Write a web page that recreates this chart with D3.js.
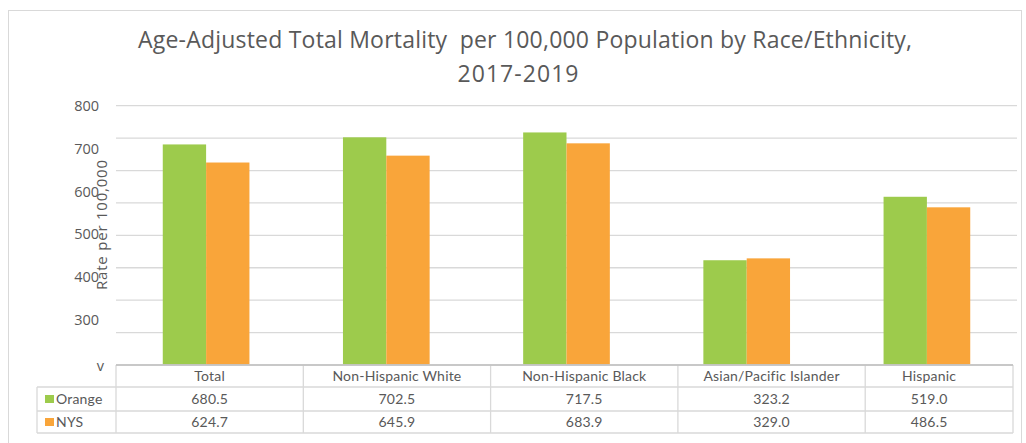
<!DOCTYPE html>
<html>
<head>
<meta charset="utf-8">
<script src="https://cdn.jsdelivr.net/npm/d3@7"></script>
<style>
  body { margin: 0; background: #fff; }
  svg { display: block; }
</style>
</head>
<body>
<div id="chart"></div>
<script>
// data
var categories = ["Total", "Non-Hispanic White", "Non-Hispanic Black", "Asian/Pacific Islander", "Hispanic"];
var seriesNames = ["Orange", "NYS"];
var orangeValues = [680.5, 702.5, 717.5, 323.2, 519.0];
var nysValues = [624.7, 645.9, 683.9, 329.0, 486.5];
var tickLabels = ["800", "700", "600", "500", "400", "300"];
var gridValues = [100, 200, 300, 400, 500, 600, 700, 800];

var width = 1026,
    height = 443;

var colors = { "Orange": "#9dcb4c", "NYS": "#f9a53a" };
var textColor = "#595959";

var svg = d3.select("#chart")
    .append("svg")
    .attr("width", width)
    .attr("height", height);

// chart frame
svg.append("rect")
    .attr("x", 8.5).attr("y", 10.5)
    .attr("width", 1013).attr("height", 440)
    .attr("fill", "#fff")
    .attr("stroke", "#d9d9d9");

var plot = { left: 116, right: 1017, top: 105.7, bottom: 365 };

var y = d3.scaleLinear()
    .domain([0, 800])
    .range([plot.bottom, plot.top]);

var x0 = d3.scaleBand()
    .domain(categories)
    .range([plot.left, plot.right])
    .paddingInner(0.519)
    .paddingOuter(0.2595);

var x1 = d3.scaleBand()
    .domain(seriesNames)
    .range([0, x0.bandwidth()]);

/* ------- TITLE -------*/
var title = svg.append("g")
    .attr("fill", textColor)
    .attr("font-family", "'Open Sans', sans-serif")
    .attr("font-size", "23px")
    .attr("text-anchor", "middle");
title.append("text")
    .attr("x", 525).attr("y", 48)
    .attr("textLength", 774)
    .style("white-space", "pre")
    .text("Age-Adjusted Total Mortality  per 100,000 Population by Race/Ethnicity,");
title.append("text")
    .attr("x", 518).attr("y", 82)
    .attr("textLength", 121)
    .text("2017-2019");

/* ------- GRID -------*/
svg.append("g")
    .selectAll("line")
    .data(gridValues)
    .enter()
    .append("line")
    .attr("x1", plot.left).attr("x2", plot.right)
    .attr("y1", function (d) { return y(d); })
    .attr("y2", function (d) { return y(d); })
    .attr("stroke", "#d9d9d9")
    .attr("stroke-width", 1.3);

/* ------- Y LABELS (as drawn in the source, spaced on their own) -------*/
var labelY = d3.scalePoint()
    .domain(tickLabels)
    .range([106, 320]);

var yLabels = svg.append("g")
    .attr("fill", textColor)
    .attr("font-family", "'Open Sans', sans-serif")
    .attr("font-size", "14.5px")
    .attr("text-anchor", "end");

yLabels.selectAll("text")
    .data(tickLabels)
    .enter()
    .append("text")
    .attr("x", 99)
    .attr("y", function (d) { return labelY(d); })
    .attr("dy", "0.35em")
    .text(function (d) { return d; });

yLabels.append("text")
    .attr("x", 104)
    .attr("y", y(0) + 1)
    .attr("dy", "0.35em")
    .text("v");

svg.append("text")
    .attr("transform", "translate(107,225) rotate(-90)")
    .attr("text-anchor", "middle")
    .attr("fill", textColor)
    .attr("font-family", "'Open Sans', sans-serif")
    .attr("font-size", "15px")
    .attr("textLength", 130)
    .text("Rate per 100,000");

/* ------- BARS -------*/
var rows = categories.map(function (c, i) {
    return { category: c, values: [
        { key: "Orange", value: orangeValues[i] },
        { key: "NYS", value: nysValues[i] }
    ] };
});

svg.append("g")
    .selectAll("g")
    .data(rows)
    .enter()
    .append("g")
    .attr("transform", function (d) { return "translate(" + x0(d.category) + ",0)"; })
    .selectAll("rect")
    .data(function (d) { return d.values; })
    .enter()
    .append("rect")
    .attr("x", function (d) { return x1(d.key); })
    .attr("y", function (d) { return y(d.value); })
    .attr("width", x1.bandwidth())
    .attr("height", function (d) { return y(0) - y(d.value); })
    .attr("fill", function (d) { return colors[d.key]; });

/* ------- DATA TABLE -------*/
var table = { left: 37, legendRight: 116, right: 1013, rowTops: [365, 387, 411, 433] };

var tx = d3.scaleBand()
    .domain(categories)
    .range([table.legendRight, table.legendRight + 5 * 187.3]);

function colLeft(c) { return tx(c); }
function colRight(c) { return Math.min(tx(c) + tx.bandwidth(), table.right); }
function colMid(c) { return (colLeft(c) + colRight(c)) / 2 - (colRight(c) < tx(c) + tx.bandwidth() ? 10 : 0); }

var grid = svg.append("g")
    .attr("stroke", "#d9d9d9")
    .attr("stroke-width", 1.3)
    .attr("fill", "none");

// horizontal lines
grid.append("line")
    .attr("x1", table.legendRight).attr("x2", table.right)
    .attr("y1", table.rowTops[0]).attr("y2", table.rowTops[0]);
table.rowTops.slice(1).forEach(function (t) {
    grid.append("line")
        .attr("x1", table.left).attr("x2", table.right)
        .attr("y1", t).attr("y2", t);
});

// vertical lines
grid.append("line")
    .attr("x1", table.left).attr("x2", table.left)
    .attr("y1", table.rowTops[1]).attr("y2", table.rowTops[3]);
categories.forEach(function (c) {
    grid.append("line")
        .attr("x1", colLeft(c)).attr("x2", colLeft(c))
        .attr("y1", table.rowTops[0]).attr("y2", table.rowTops[3]);
});
grid.append("line")
    .attr("x1", table.right).attr("x2", table.right)
    .attr("y1", table.rowTops[0]).attr("y2", table.rowTops[3]);

// axis line over the table top
svg.append("line")
    .attr("x1", plot.left).attr("x2", table.right)
    .attr("y1", plot.bottom).attr("y2", plot.bottom)
    .attr("stroke", "#bfbfbf")
    .attr("stroke-width", 1.3);

var tableText = svg.append("g")
    .attr("fill", textColor)
    .attr("font-family", "Lato, sans-serif")
    .attr("font-size", "14px")
    .attr("letter-spacing", "0.2px");

function rowMid(r) { return (table.rowTops[r] + table.rowTops[r + 1]) / 2; }

tableText.selectAll("text.head")
    .data(categories)
    .enter()
    .append("text")
    .attr("class", "head")
    .attr("x", function (d) { return colMid(d); })
    .attr("y", rowMid(0))
    .attr("dy", "0.35em")
    .attr("text-anchor", "middle")
    .text(function (d) { return d; });

[orangeValues, nysValues].forEach(function (vals, r) {
    tableText.selectAll("text.v" + r)
        .data(vals)
        .enter()
        .append("text")
        .attr("class", "v" + r)
        .attr("x", function (d, i) { return colMid(categories[i]); })
        .attr("y", rowMid(r + 1))
        .attr("dy", "0.35em")
        .attr("text-anchor", "middle")
        .text(function (d) { return d.toFixed(1); });
});

// legend keys in the table
seriesNames.forEach(function (s, r) {
    svg.append("rect")
        .attr("x", 45).attr("y", rowMid(r + 1) - 4)
        .attr("width", 9).attr("height", 8)
        .attr("fill", colors[s]);
    tableText.append("text")
        .attr("x", 56)
        .attr("y", rowMid(r + 1))
        .attr("dy", "0.35em")
        .text(s);
});
</script>
</body>
</html>
